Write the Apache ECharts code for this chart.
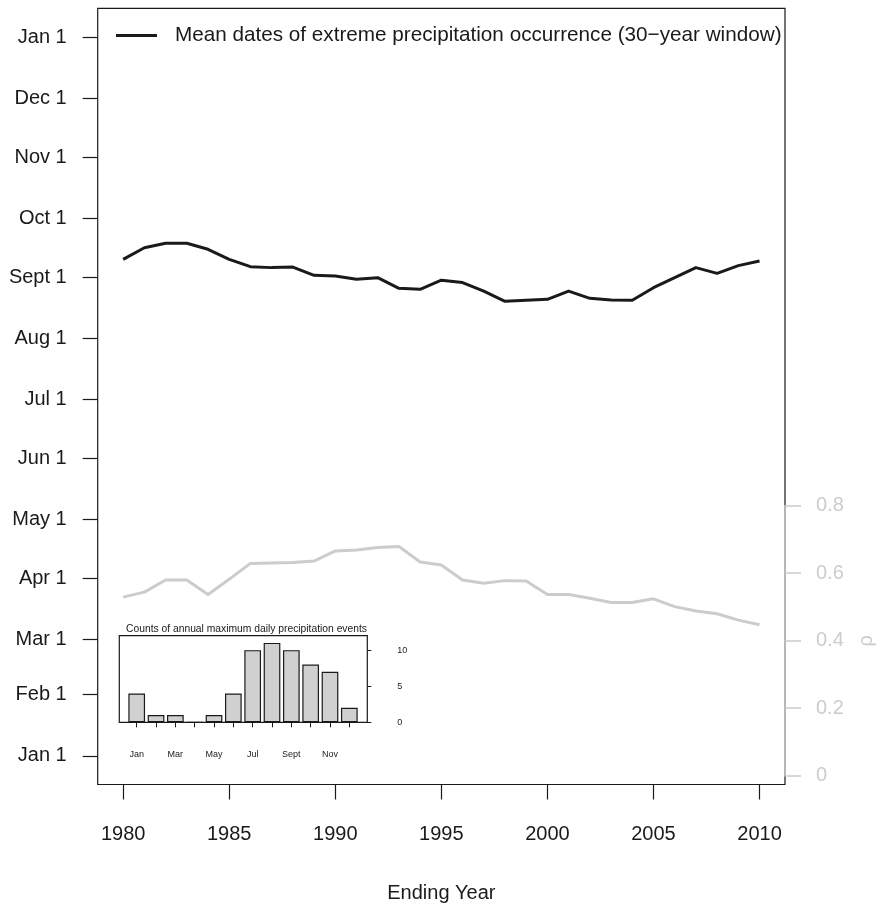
<!DOCTYPE html>
<html>
<head>
<meta charset="utf-8">
<script src="https://cdn.jsdelivr.net/npm/echarts@6/dist/echarts.min.js"></script>
<style>
  html, body { margin: 0; padding: 0; background: #fff; }
  #chart { width: 877px; height: 904px; }
</style>
</head>
<body>
<div id="chart"></div>
<script>
// Ending year of each 30-year window
const years = [1980, 1981, 1982, 1983, 1984, 1985, 1986, 1987, 1988, 1989, 1990,
               1991, 1992, 1993, 1994, 1995, 1996, 1997, 1998, 1999, 2000,
               2001, 2002, 2003, 2004, 2005, 2006, 2007, 2008, 2009, 2010];

// Mean date of annual maximum daily precipitation (day of year, Jan 1 = 0)
const meanDay = [252.1, 258.0, 260.3, 260.3, 257.2, 252.1, 248.4, 247.9, 248.2, 244.0, 243.7,
                 242.0, 242.8, 237.4, 236.9, 241.5, 240.3, 236.0, 230.8, 231.3, 231.8,
                 236.0, 232.3, 231.5, 231.3, 237.7, 242.8, 247.9, 245.0, 248.9, 251.3];

// Concentration (rho) of occurrence dates within each window
const rho = [0.529, 0.544, 0.580, 0.580, 0.537, 0.582, 0.629, 0.630, 0.632, 0.636, 0.666,
             0.669, 0.676, 0.679, 0.633, 0.624, 0.580, 0.570, 0.578, 0.577, 0.537,
             0.537, 0.526, 0.513, 0.513, 0.524, 0.501, 0.488, 0.480, 0.461, 0.447];

// Date axis: first day of each month (day of year) and its label
const monthDays = [0, 31, 59, 90, 120, 151, 181, 212, 243, 273, 304, 334, 365];
const monthTickLabels = ['Jan 1', 'Feb 1', 'Mar 1', 'Apr 1', 'May 1', 'Jun 1', 'Jul 1',
                         'Aug 1', 'Sept 1', 'Oct 1', 'Nov 1', 'Dec 1', 'Jan 1'];
const yearTicks = [1980, 1985, 1990, 1995, 2000, 2005, 2010];
const rhoTicks = [0, 0.2, 0.4, 0.6, 0.8];

// Inset: monthly counts of annual maximum daily precipitation events
const monthIndex = [1, 2, 3, 4, 5, 6, 7, 8, 9, 10, 11, 12];
const monthCounts = [4, 1, 1, 0, 1, 4, 10, 11, 10, 8, 7, 2];
const monthAbbr = ['Jan', 'Feb', 'Mar', 'Apr', 'May', 'Jun', 'Jul', 'Aug', 'Sept', 'Oct', 'Nov', 'Dec'];
const insetLabelMonths = [1, 3, 5, 7, 9, 11];
const countTicks = [0, 5, 10];

const lineName = 'Mean dates of extreme precipitation occurrence (30\u2212year window)';
const FONT = 'Liberation Sans, Arial, Helvetica, sans-serif';
const INK = '#1a1a1a';
const GREY = '#cccccc';

const chart = echarts.init(document.getElementById('chart'), null, { renderer: 'canvas' });

const option = {
  backgroundColor: '#ffffff',
  animation: false,
  textStyle: { fontFamily: FONT },
  legend: {
    data: [lineName],
    left: 116,
    top: 25,
    padding: 0,
    icon: 'rect',
    itemWidth: 41,
    itemHeight: 3,
    textStyle: { fontSize: 20.7, color: INK, fontFamily: FONT, padding: [0, 0, 0, 13] }
  },
  grid: [
    // main panel
    { left: 97.7, right: 92, top: 8.3, bottom: 119.5, show: true, borderColor: INK, borderWidth: 1.2,
      containLabel: false, outerBoundsMode: 'none' },
    // rho panel (lower part, right axis)
    { left: 97.7, right: 92, top: 505.7, bottom: 128.3, show: false,
      containLabel: false, outerBoundsMode: 'none' },
    // inset bar chart
    { left: 119.3, right: 509.7, top: 635.7, bottom: 181.7, show: true, borderColor: INK, borderWidth: 1.2,
      backgroundColor: '#ffffff', containLabel: false, outerBoundsMode: 'none', z: 10 }
  ],
  title: {
    text: 'Counts of annual maximum daily precipitation events',
    left: 246.5,
    top: 624.5,
    padding: 0,
    textAlign: 'center',
    textStyle: { fontSize: 10.3, fontWeight: 'normal', color: INK, fontFamily: FONT },
    z: 12
  },
  xAxis: [
    {
      gridIndex: 0, type: 'value', min: 1978.8, max: 2011.2,
      name: 'Ending Year', nameLocation: 'middle', nameGap: 99,
      nameTextStyle: { fontSize: 20, color: INK, fontFamily: FONT },
      axisLine: { show: false, onZero: false },
      axisTick: { show: true, length: 15, customValues: yearTicks, lineStyle: { color: INK, width: 1.2 } },
      axisLabel: { customValues: yearTicks, fontSize: 20, color: INK, margin: 40, fontFamily: FONT,
                   formatter: v => String(Math.round(v)) },
      splitLine: { show: false }
    },
    {
      gridIndex: 1, type: 'value', min: 1978.8, max: 2011.2, show: false,
      axisLine: { onZero: false }
    },
    {
      gridIndex: 2, type: 'value', min: 0.1, max: 12.93,
      axisLine: { show: false, onZero: false },
      axisTick: { show: true, length: 5, customValues: monthIndex, lineStyle: { color: INK, width: 1 } },
      axisLabel: {
        customValues: insetLabelMonths, fontSize: 9, color: INK, margin: 28, fontFamily: FONT,
        formatter: v => monthAbbr[Math.round(v) - 1]
      },
      splitLine: { show: false },
      z: 11
    }
  ],
  yAxis: [
    {
      gridIndex: 0, type: 'value', min: -14.6, max: 379.6,
      axisLine: { show: false, onZero: false },
      axisTick: { show: true, length: 15, customValues: monthDays, lineStyle: { color: INK, width: 1.2 } },
      axisLabel: {
        customValues: monthDays, fontSize: 20, color: INK, margin: 31, fontFamily: FONT,
        formatter: v => monthTickLabels[monthDays.indexOf(Math.round(v))] ?? ''
      },
      splitLine: { show: false }
    },
    {
      gridIndex: 1, type: 'value', position: 'right', min: 0, max: 0.8,
      name: '\u03c1', nameLocation: 'middle', nameRotate: 90, nameGap: 71,
      nameTextStyle: { fontSize: 20, color: GREY, fontFamily: FONT },
      axisLine: { show: true, onZero: false, lineStyle: { color: GREY, width: 1.5 } },
      axisTick: { show: true, length: 16, customValues: rhoTicks, lineStyle: { color: GREY, width: 1.5 } },
      axisLabel: {
        customValues: rhoTicks, fontSize: 20, color: GREY, margin: 31, fontFamily: FONT,
        formatter: v => (Math.abs(v) < 1e-9 ? '0' : v.toFixed(1))
      },
      splitLine: { show: false },
      z: 5
    },
    {
      gridIndex: 2, type: 'value', position: 'right', min: 0, max: 12,
      axisLine: { show: false, onZero: false },
      axisTick: { show: true, length: 4, customValues: countTicks, lineStyle: { color: INK, width: 1 } },
      axisLabel: { customValues: countTicks, fontSize: 9, color: INK, margin: 30, align: 'left', fontFamily: FONT },
      splitLine: { show: false },
      z: 11
    }
  ],
  series: [
    {
      name: lineName,
      type: 'line',
      xAxisIndex: 0, yAxisIndex: 0,
      data: years.map((y, i) => [y, meanDay[i]]),
      showSymbol: false,
      lineStyle: { color: INK, width: 3, join: 'round' },
      itemStyle: { color: INK },
      z: 3
    },
    {
      name: 'rho',
      type: 'line',
      xAxisIndex: 1, yAxisIndex: 1,
      data: years.map((y, i) => [y, rho[i]]),
      showSymbol: false,
      lineStyle: { color: GREY, width: 3, join: 'round' },
      itemStyle: { color: GREY },
      z: 2
    },
    {
      name: 'counts',
      type: 'bar',
      xAxisIndex: 2, yAxisIndex: 2,
      data: monthIndex.map((m, i) => [m, monthCounts[i]]),
      barWidth: 16.7,
      itemStyle: { color: '#d0d0d0', borderColor: INK, borderWidth: 1.2 },
      z: 12
    }
  ]
};

chart.setOption(option);
</script>
</body>
</html>
